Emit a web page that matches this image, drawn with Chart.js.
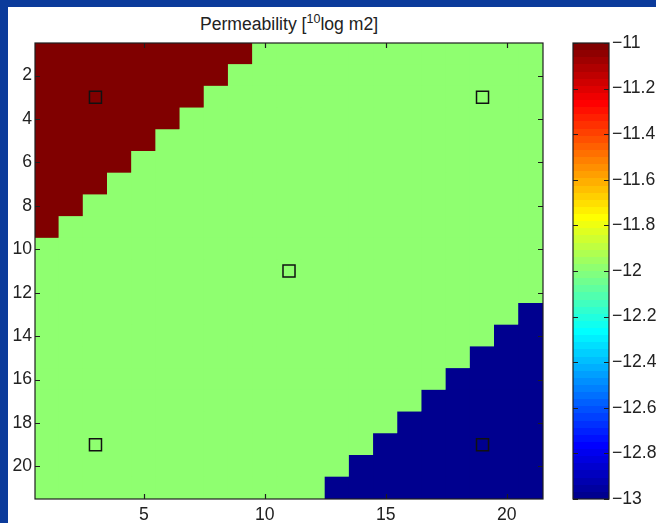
<!DOCTYPE html>
<html>
<head>
<meta charset="utf-8">
<script src="https://cdn.jsdelivr.net/npm/chart.js@4.4.1/dist/chart.umd.min.js"></script>
<style>
  html, body { margin: 0; padding: 0; }
  body { width: 656px; height: 523px; background: #0b3b9b; position: relative; overflow: hidden;
         font-family: "Liberation Sans", Arial, sans-serif; }
  #panel { position: absolute; left: 8px; top: 7px; width: 648px; height: 516px; background: #fff; }
  #title { position: absolute; left: 35px; width: 508px; top: 14px; text-align: center;
           font-size: 17.6px; line-height: 20px; color: #222; }
  #title span { font-size: 12.5px; position: relative; top: -7px; }
  #heat { position: absolute; left: 0; top: 0; }
  #cbar { position: absolute; left: 560px; top: 0; }
</style>
</head>
<body>
<div id="panel"></div>
<div id="title">Permeability [<span>10</span>log m2]</div>
<canvas id="heat" width="560" height="523"></canvas>
<canvas id="cbar" width="96" height="523"></canvas>
<script>
// field levels (10log m2): high, background, low
const fieldValues = [-11, -12, -13];
// per row (1..21, top to bottom): number of high cells from the left edge
const highCells = [9, 8, 7, 6, 5, 4, 3, 2, 1, 0, 0, 0, 0, 0, 0, 0, 0, 0, 0, 0, 0];
// per row: number of low cells from the right edge
const lowCells = [0, 0, 0, 0, 0, 0, 0, 0, 0, 0, 0, 0, 1, 2, 3, 4, 5, 6, 7, 8, 9];
const nCols = 21;

// well markers
const wellX = [3, 19, 11, 3, 19];
const wellY = [3, 3, 11, 19, 19];

const xTicks = [5, 10, 15, 20];
const yTicks = [2, 4, 6, 8, 10, 12, 14, 16, 18, 20];
const cbTicks = [-13, -12.8, -12.6, -12.4, -12.2, -12, -11.8, -11.6, -11.4, -11.2, -11];
const cMin = -13, cMax = -11;

const font = { family: "'Liberation Sans', Arial, sans-serif", size: 17.6 };
const textColor = '#222';

// MATLAB jet(64)
function jet64(k) {
  const u = j => (j < 1 || j > 47) ? 0 : j <= 16 ? j / 16 : j <= 31 ? 1 : (48 - j) / 16;
  const r = u(k - 24), g = u(k - 8), b = u(k + 8);
  return `rgb(${Math.round(r * 255)},${Math.round(g * 255)},${Math.round(b * 255)})`;
}
function colorFor(v) {
  const k = Math.min(64, Math.floor((v - cMin) / (cMax - cMin) * 64) + 1);
  return jet64(k);
}

// build cells
const cells = [];
const cellColors = [];
highCells.forEach((nHigh, i) => {
  const row = i + 1;
  for (let col = 1; col <= nCols; col++) {
    let v = fieldValues[1];
    if (col <= nHigh) v = fieldValues[0];
    if (col > nCols - lowCells[i]) v = fieldValues[2];
    cells.push({ x: col, y: [row - 0.5, row + 0.5] });
    cellColors.push(colorFor(v));
  }
});

// axes box and inward tick marks
const frame = {
  id: 'frame',
  afterDatasetsDraw(chart, args, opts) {
    const { ctx, chartArea: a } = chart;
    const L = 5;
    ctx.save();
    ctx.strokeStyle = '#1e1e1e';
    ctx.lineWidth = 1.2;
    ctx.strokeRect(a.left, a.top, a.width, a.height);
    ctx.beginPath();
    if (opts.axes.includes('x')) {
      chart.scales.x.ticks.forEach(t => {
        const px = Math.round(chart.scales.x.getPixelForValue(t.value)) + 0.5;
        ctx.moveTo(px, a.bottom); ctx.lineTo(px, a.bottom - L);
        ctx.moveTo(px, a.top); ctx.lineTo(px, a.top + L);
      });
    }
    if (opts.axes.includes('y')) {
      chart.scales.y.ticks.forEach(t => {
        const py = Math.round(chart.scales.y.getPixelForValue(t.value)) + 0.5;
        ctx.moveTo(a.left, py); ctx.lineTo(a.left + L, py);
        ctx.moveTo(a.right, py); ctx.lineTo(a.right - L, py);
      });
    }
    ctx.stroke();
    ctx.restore();
  }
};

new Chart(document.getElementById('heat'), {
  type: 'bar',
  data: {
    datasets: [
      {
        type: 'scatter',
        data: wellX.map((x, i) => ({ x, y: wellY[i] })),
        pointStyle: 'rect',
        pointRadius: 8.5,
        pointBorderWidth: 1.5,
        pointBorderColor: '#111',
        pointBackgroundColor: 'rgba(0,0,0,0)',
        order: 0
      },
      {
        data: cells,
        backgroundColor: cellColors,
        borderWidth: 0,
        barPercentage: 1,
        categoryPercentage: 1,
        inflateAmount: 0.6,
        order: 1
      }
    ]
  },
  options: {
    responsive: false,
    animation: false,
    events: [],
    layout: { padding: { top: 43, right: 17, bottom: 0, left: 0 } },
    plugins: {
      legend: { display: false },
      tooltip: { enabled: false },
      frame: { axes: ['x', 'y'] }
    },
    scales: {
      x: {
        type: 'linear', min: 0.5, max: 21.5, offset: false,
        grid: { display: false, drawTicks: false }, border: { display: false },
        afterBuildTicks: s => { s.ticks = xTicks.map(v => ({ value: v })); },
        afterFit: s => { s.height = 24; },
        ticks: { font, color: textColor, padding: 6, maxRotation: 0 }
      },
      y: {
        type: 'linear', min: 0.5, max: 21.5, reverse: true,
        grid: { display: false, drawTicks: false }, border: { display: false },
        afterBuildTicks: s => { s.ticks = yTicks.map(v => ({ value: v })); },
        afterFit: s => { s.width = 35; },
        ticks: { font, color: textColor, padding: 3 }
      }
    }
  },
  plugins: [frame]
});

// colorbar
new Chart(document.getElementById('cbar'), {
  type: 'bar',
  data: {
    labels: [''],
    datasets: [{
      data: [[cMin, cMax]],
      borderWidth: 0,
      barPercentage: 1,
      categoryPercentage: 1,
      backgroundColor: c => {
        const a = c.chart.chartArea;
        if (!a) return '#888';
        const g = c.chart.ctx.createLinearGradient(0, a.bottom, 0, a.top);
        for (let k = 1; k <= 64; k++) {
          g.addColorStop((k - 1) / 64, jet64(k));
          g.addColorStop(k / 64, jet64(k));
        }
        return g;
      }
    }]
  },
  options: {
    responsive: false,
    animation: false,
    events: [],
    layout: { padding: { top: 43, right: 0, bottom: 24, left: 13 } },
    plugins: {
      legend: { display: false },
      tooltip: { enabled: false },
      frame: { axes: ['y'] }
    },
    scales: {
      x: { display: false },
      y: {
        position: 'right', min: cMin, max: cMax,
        grid: { display: false, drawTicks: false }, border: { display: false },
        afterBuildTicks: s => { s.ticks = cbTicks.map(v => ({ value: v })); },
        afterFit: s => { s.width = 47; },
        ticks: {
          font, color: textColor, padding: 3,
          callback: v => '\u2212' + String(Math.abs(Math.round(v * 10) / 10))
        }
      }
    }
  },
  plugins: [frame]
});
</script>
</body>
</html>
